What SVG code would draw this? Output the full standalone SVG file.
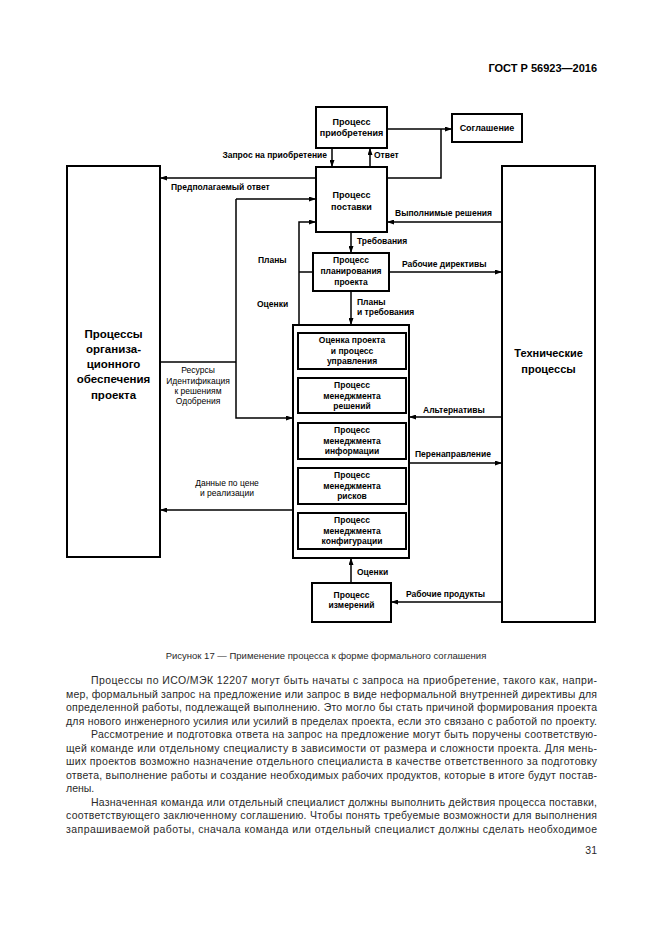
<svg xmlns="http://www.w3.org/2000/svg" width="661" height="935" viewBox="0 0 661 935">
<style>
.box{fill:#fff;stroke:#000;stroke-width:2}
.ln{fill:none;stroke:#000;stroke-width:1.5}
.t{font-family:"Liberation Sans",Arial,sans-serif;font-weight:bold;font-size:8.5px;fill:#000}
.tn{font-family:"Liberation Sans",Arial,sans-serif;font-size:8.5px;fill:#000}
.big{font-family:"Liberation Sans",Arial,sans-serif;font-weight:bold;font-size:11.5px;fill:#000}
.m{text-anchor:middle}
.e{text-anchor:end}
.body{font-family:"Liberation Sans",Arial,sans-serif;font-size:10.5px;fill:#2a2a2a}
</style>
<defs>
<marker id="ar" markerUnits="userSpaceOnUse" markerWidth="7" markerHeight="5" refX="7" refY="2.5" orient="auto">
<path d="M0,0 L7,2.5 L0,5 z" fill="#000"/>
</marker>
</defs>
<rect width="661" height="935" fill="#fff"/>

<text x="597" y="72" class="big e" style="font-size:11px">ГОСТ Р 56923—2016</text>

<g id="connectors">
<path class="ln" d="M387,129 H452" marker-end="url(#ar)"/>
<path class="ln" d="M387,178 H441 V129"/>
<path class="ln" d="M332,148 V167" marker-end="url(#ar)"/>
<path class="ln" d="M370,167 V148" marker-end="url(#ar)"/>
<path class="ln" d="M316,178 H160" marker-end="url(#ar)"/>
<path class="ln" d="M236,199 H316" marker-end="url(#ar)"/>
<path class="ln" d="M236,199 V418 H293" marker-end="url(#ar)"/>
<path class="ln" d="M160,362 H236"/>
<path class="ln" d="M299,325 V222 H316" marker-end="url(#ar)"/>
<path class="ln" d="M299,272 H313"/>
<path class="ln" d="M502,222 H387" marker-end="url(#ar)"/>
<path class="ln" d="M351,232 V253" marker-end="url(#ar)"/>
<path class="ln" d="M389,272 H502" marker-end="url(#ar)"/>
<path class="ln" d="M351,291 V325" marker-end="url(#ar)"/>
<path class="ln" d="M502,417 H409" marker-end="url(#ar)"/>
<path class="ln" d="M409,463 H502" marker-end="url(#ar)"/>
<path class="ln" d="M293,510 H160" marker-end="url(#ar)"/>
<path class="ln" d="M351,583 V558" marker-end="url(#ar)"/>
<path class="ln" d="M502,602 H391" marker-end="url(#ar)"/>
<text x="327" y="158" class="t e">Запрос на приобретение</text>
<text x="374" y="158" class="t">Ответ</text>
<text x="171" y="190" class="t">Предполагаемый ответ</text>
<text x="395" y="216" class="t">Выполнимые решения</text>
<text x="357" y="244" class="t">Требования</text>
<text x="258" y="262.5" class="t">Планы</text>
<text x="402" y="266.5" class="t">Рабочие директивы</text>
<text x="257" y="307" class="t">Оценки</text>
<text x="357" y="305" class="t">Планы</text>
<text x="357" y="315" class="t">и требования</text>
<text class="tn m" x="198" y="373">Ресурсы</text>
<text class="tn m" x="198" y="383.5">Идентификация</text>
<text class="tn m" x="198" y="393.5">к решениям</text>
<text class="tn m" x="198" y="403.5">Одобрения</text>
<text class="tn m" x="227" y="486">Данные по цене</text>
<text class="tn m" x="227" y="496">и реализации</text>
<text x="423" y="413" class="t">Альтернативы</text>
<text x="415" y="457" class="t">Перенаправление</text>
<text x="357" y="575" class="t">Оценки</text>
<text x="406" y="597" class="t">Рабочие продукты</text>
</g>

<g id="acq">
<rect class="box" x="316" y="107" width="71" height="41"/>
<text class="t m" x="351.5" y="124.5" style="font-size:9px">Процесс</text>
<text class="t m" x="351.5" y="136" style="font-size:9px">приобретения</text>
</g>
<g id="agreement">
<rect class="box" x="452" y="114" width="70" height="28"/>
<text class="t m" x="487" y="131" style="font-size:9px">Соглашение</text>
</g>
<g id="supply">
<rect class="box" x="316" y="167" width="71" height="65"/>
<text class="t m" x="351.5" y="197.5" style="font-size:9px">Процесс</text>
<text class="t m" x="351.5" y="210" style="font-size:9px">поставки</text>
</g>
<g id="planning">
<rect class="box" x="313" y="253" width="76" height="38"/>
<text class="t m" x="351" y="263">Процесс</text>
<text class="t m" x="351" y="274">планирования</text>
<text class="t m" x="351" y="285">проекта</text>
</g>
<g id="org">
<rect class="box" x="67" y="166" width="93" height="391"/>
<text class="big m" x="113.5" y="338">Процессы</text>
<text class="big m" x="113.5" y="353">организа-</text>
<text class="big m" x="113.5" y="368">ционного</text>
<text class="big m" x="113.5" y="383">обеспечения</text>
<text class="big m" x="113.5" y="399">проекта</text>
</g>
<g id="tech">
<rect class="box" x="502" y="166" width="93" height="456"/>
<text class="big m" x="548.5" y="357" style="font-size:11px">Технические</text>
<text class="big m" x="548.5" y="373" style="font-size:11px">процессы</text>
</g>
<g id="mgmt">
<rect class="box" x="293" y="325" width="116" height="233"/>
<g id="m1">
<rect class="box" x="298" y="333" width="108" height="36"/>
<text class="t m" x="352" y="343">Оценка проекта</text>
<text class="t m" x="352" y="354">и процесс</text>
<text class="t m" x="352" y="364">управления</text>
</g>
<g id="m2">
<rect class="box" x="298" y="378" width="108" height="35"/>
<text class="t m" x="352" y="387.5">Процесс</text>
<text class="t m" x="352" y="398.5">менеджмента</text>
<text class="t m" x="352" y="408.5">решений</text>
</g>
<g id="m3">
<rect class="box" x="298" y="423" width="108" height="36"/>
<text class="t m" x="352" y="432.5">Процесс</text>
<text class="t m" x="352" y="443.5">менеджмента</text>
<text class="t m" x="352" y="454">информации</text>
</g>
<g id="m4">
<rect class="box" x="298" y="468" width="108" height="36"/>
<text class="t m" x="352" y="478">Процесс</text>
<text class="t m" x="352" y="488.5">менеджмента</text>
<text class="t m" x="352" y="499">рисков</text>
</g>
<g id="m5">
<rect class="box" x="298" y="513" width="108" height="36"/>
<text class="t m" x="352" y="522.5">Процесс</text>
<text class="t m" x="352" y="533.5">менеджмента</text>
<text class="t m" x="352" y="544">конфигурации</text>
</g>
</g>
<g id="measure">
<rect class="box" x="312" y="583" width="79" height="39"/>
<text class="t m" x="351.5" y="598">Процесс</text>
<text class="t m" x="351.5" y="607.5">измерений</text>
</g>

<text x="326" y="659" class="body m" style="font-size:9.5px">Рисунок 17 — Применение процесса к форме формального соглашения</text>

<g id="bodytext" class="body">
<text x="91" y="684" textLength="506" lengthAdjust="spacing">Процессы по ИСО/МЭК 12207 могут быть начаты с запроса на приобретение, такого как, напри-</text>
<text x="66" y="697.5" textLength="531" lengthAdjust="spacing">мер, формальный запрос на предложение или запрос в виде неформальной внутренней директивы для</text>
<text x="66" y="711" textLength="531" lengthAdjust="spacing">определенной работы, подлежащей выполнению. Это могло бы стать причиной формирования проекта</text>
<text x="66" y="724.5" textLength="531" lengthAdjust="spacing">для нового инженерного усилия или усилий в пределах проекта, если это связано с работой по проекту.</text>
<text x="91" y="738" textLength="506" lengthAdjust="spacing">Рассмотрение и подготовка ответа на запрос на предложение могут быть поручены соответствую-</text>
<text x="66" y="751.5" textLength="531" lengthAdjust="spacing">щей команде или отдельному специалисту в зависимости от размера и сложности проекта. Для мень-</text>
<text x="66" y="765" textLength="531" lengthAdjust="spacing">ших проектов возможно назначение отдельного специалиста в качестве ответственного за подготовку</text>
<text x="66" y="778.5" textLength="531" lengthAdjust="spacing">ответа, выполнение работы и создание необходимых рабочих продуктов, которые в итоге будут постав-</text>
<text x="66" y="792">лены.</text>
<text x="91" y="805.5" textLength="506" lengthAdjust="spacing">Назначенная команда или отдельный специалист должны выполнить действия процесса поставки,</text>
<text x="66" y="819" textLength="531" lengthAdjust="spacing">соответствующего заключенному соглашению. Чтобы понять требуемые возможности для выполнения</text>
<text x="66" y="832.5" textLength="531" lengthAdjust="spacing">запрашиваемой работы, сначала команда или отдельный специалист должны сделать необходимое</text>
</g>
<text x="597" y="854" class="body e">31</text>
</svg>
